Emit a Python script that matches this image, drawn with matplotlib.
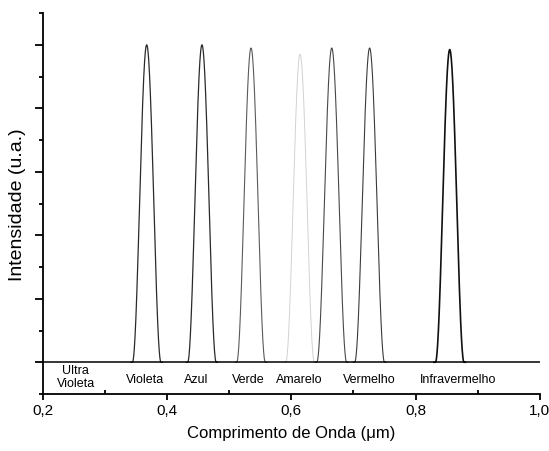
import numpy as np
import matplotlib
matplotlib.use("Agg")
import matplotlib.pyplot as plt
from matplotlib.ticker import MultipleLocator, FuncFormatter

plt.rcParams['font.family'] = ['Liberation Sans', 'DejaVu Sans']

# picos (centro em um, altura relativa, largura da base em um)
centros = [0.367, 0.456, 0.535, 0.614, 0.665, 0.726, 0.855]
alturas = [1.00, 1.00, 0.99, 0.97, 0.99, 0.99, 0.985]
bases = [0.046, 0.046, 0.046, 0.046, 0.048, 0.048, 0.046]
tons = ['#2a2a2a', '#2a2a2a', '#5a5a5a', '#d2d2d2', '#484848', '#3a3a3a', '#111111']
espessuras = [0.9, 0.9, 0.8, 0.7, 0.8, 0.8, 1.2]

rotulos = ['Ultra\nVioleta', 'Violeta', 'Azul', 'Verde', 'Amarelo', 'Vermelho',
           'Infravermelho']
rotulos_x = [0.253, 0.364, 0.446, 0.530, 0.612, 0.726, 0.869]

fig = plt.figure(figsize=(5.49, 4.51), dpi=100)
ax = fig.add_axes([0.0783, 0.1264, 0.9049, 0.8446])

x = np.linspace(0.2, 1.0, 4000)
for c, h, w, cor, lw in zip(centros, alturas, bases, tons, espessuras):
    d = (x-c)/w
    y = np.where(np.abs(d) < 0.5, h*np.cos(np.pi*d)**2, 0.0)
    m = np.abs(d) < 0.55
    ax.plot(x[m], y[m], color=cor, lw=lw)

# linha de base
ax.plot([0.2, 1.0], [0, 0], color='k', lw=1.1)

for xt, t in zip(rotulos_x, rotulos):
    yt = -0.057 if '\n' not in t else -0.048
    ax.text(xt, yt, t, ha='center', va='center', fontsize=9,
            linespacing=1.1)

ax.set_xlim(0.2, 1.0)
ax.set_ylim(-0.1, 1.1)
for sp in ['top', 'right']:
    ax.spines[sp].set_visible(False)
for sp in ['left', 'bottom']:
    ax.spines[sp].set_linewidth(1.3)

ax.xaxis.set_major_locator(MultipleLocator(0.2))
ax.xaxis.set_minor_locator(MultipleLocator(0.1))
ax.xaxis.set_major_formatter(FuncFormatter(lambda v, p: f'{v:.1f}'.replace('.', ',')))
ax.tick_params(axis='x', which='major', direction='out', length=4, width=1.3,
               labelsize=11, pad=3)
ax.tick_params(axis='x', which='minor', direction='in', length=3, width=1.3)

ax.yaxis.set_major_locator(MultipleLocator(0.2))
ax.yaxis.set_minor_locator(MultipleLocator(0.1))
ax.yaxis.set_major_formatter(FuncFormatter(lambda v, p: ''))
ax.tick_params(axis='y', which='major', direction='out', length=6, width=1.3)
ax.tick_params(axis='y', which='minor', direction='out', length=3, width=1.3)

ax.set_xlabel('Comprimento de Onda (μm)', fontsize=12, labelpad=6)
fig.text(18/549, 1-205/451, 'Intensidade (u.a.)', rotation=90, fontsize=14,
         ha='center', va='center')

fig.savefig('out.png', dpi=100)
